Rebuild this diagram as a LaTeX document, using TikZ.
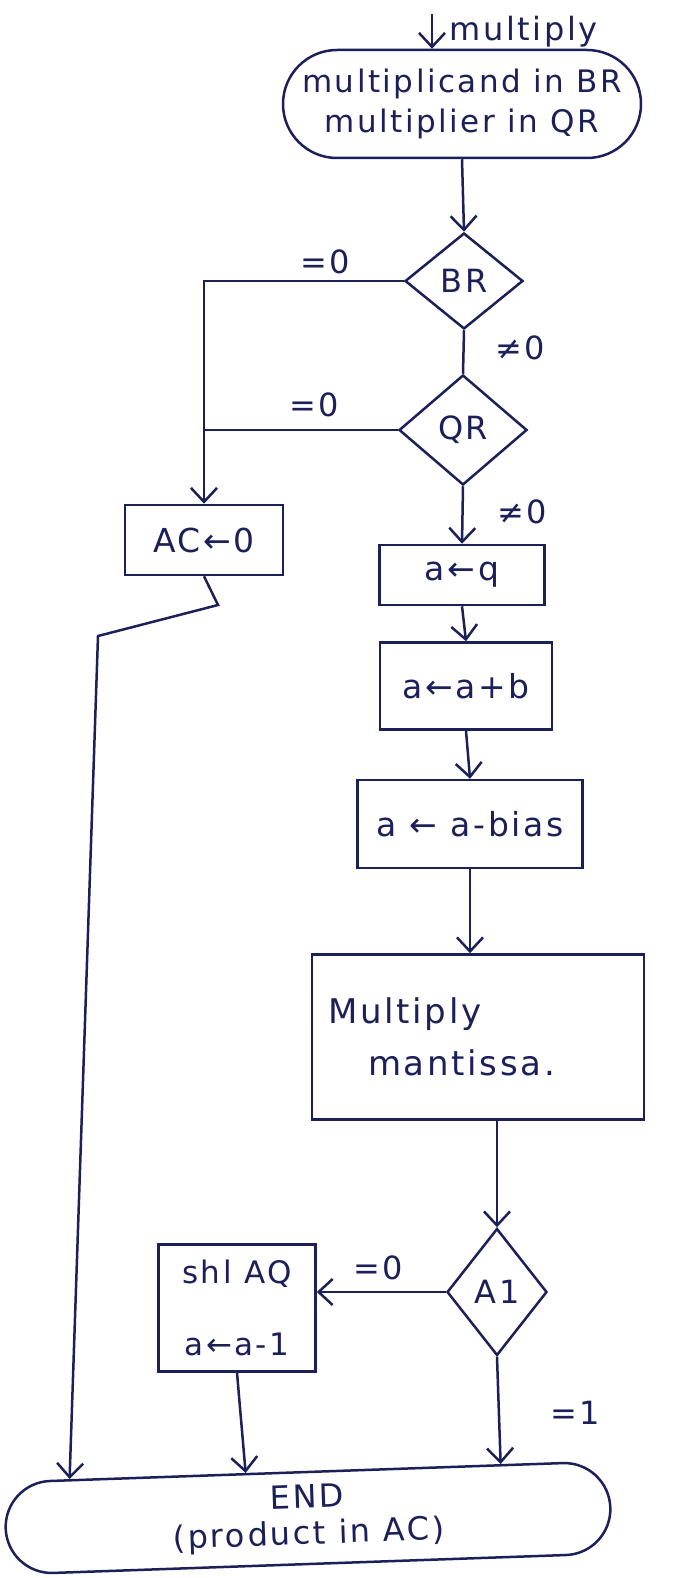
\documentclass[tikz,border=0pt]{standalone}
\usepackage{fontspec}
\setmainfont[LetterSpace=8]{DejaVu Sans}
\usetikzlibrary{arrows.meta,shapes.geometric,shapes.misc,calc}
\definecolor{ink}{RGB}{28,32,88}
\begin{document}
\begin{tikzpicture}[x=1pt,y=-1pt, color=ink, line width=2.5pt,
  every node/.style={text=ink},
  box/.style={draw, rectangle, inner sep=0pt, font=\fontsize{33}{38}\selectfont},
  dec/.style={draw, diamond, inner sep=0pt, font=\fontsize{32}{36}\selectfont},
  term/.style={draw, rounded rectangle, inner sep=0pt},
  arr/.style={-{Straight Barb[length=14pt,width=26pt]}},
  lbl/.style={font=\fontsize{32}{36}\selectfont}]
\useasboundingbox[fill=white] (0,0) rectangle (699,1578);

% nodes
\node[term, minimum width=358, minimum height=108, align=center, font=\fontsize{31}{40}\selectfont] (start) at (462,104) {multiplicand in BR\\multiplier in QR};
\coordinate (in) at (432,14);
\node[lbl, anchor=west] (mlabel) at (445,32) {multiply};

\node[dec, minimum width=118, minimum height=96] (br) at (464,281) {BR};
\node[dec, minimum width=128, minimum height=110] (qr) at (463,430) {QR};
\node[box, minimum width=158, minimum height=70] (ac) at (204,540) {AC←0};
\node[box, minimum width=165, minimum height=60] (aq) at (462,575) {a←q};
\node[box, minimum width=172, minimum height=87] (aab) at (466,686) {a←a+b};
\node[box, minimum width=225, minimum height=88] (bias) at (470,824) {a ← a-bias};
\node[box, text width=300, inner xsep=16, minimum height=165, align=left, font=\fontsize{34}{52}\selectfont] (mm) at (478,1037) {Multiply\\\hspace*{40pt}mantissa.};
\node[dec, minimum width=100, minimum height=127] (a1) at (497,1292) {A1};
\node[box, minimum width=157, minimum height=127, align=center, font=\fontsize{31}{72}\selectfont] (shl) at (237,1308) {shl AQ\\a←a-1};
\node[draw, rectangle, rounded corners=46, minimum width=605, minimum height=92, rotate=2, align=center, font=\fontsize{32}{36}\selectfont] (end) at (308,1518) {END\\(product in AC)};

% labels
\node[lbl] (l1) at (325,262) {=0};
\node[lbl] (l2) at (520,348) {≠0};
\node[lbl] (l3) at (314,405) {=0};
\node[lbl] (l4) at (522,512) {≠0};
\node[lbl] (l5) at (378,1268) {=0};
\node[lbl] (l6) at (575,1413) {=1};

% connectors
\coordinate (k1) at (218,605);
\coordinate (k2) at (98,636);
\draw[arr] (in) -- (in |- start.north);
\draw[arr] (start.south) -- (br.north);
\draw[arr] (br.west) -- (br.west -| ac.north) -- (ac.north);
\draw (br.south) -- (qr.north);
\draw (qr.west) -- (qr.west -| ac.north);
\draw[arr] (qr.south) -- (aq.north);
\draw[arr] (aq.south) -- (aab.north);
\draw[arr] (aab.south) -- (bias.north);
\draw[arr] (bias.south) -- (bias.south |- mm.north);
\draw[arr] (a1.north |- mm.south) -- (a1.north);
\draw[arr] (a1.west) -- (a1.west -| shl.east);
\draw[arr] (a1.south) -- ($(end.north west)!0.82!(end.north east)$);
\draw[arr] (shl.south) -- ($(end.north west)!0.4!(end.north east)$);
\draw[arr] (ac.south) -- (k1) -- (k2) -- ($(end.north west)!0.11!(end.north east)$);
\end{tikzpicture}
\end{document}
